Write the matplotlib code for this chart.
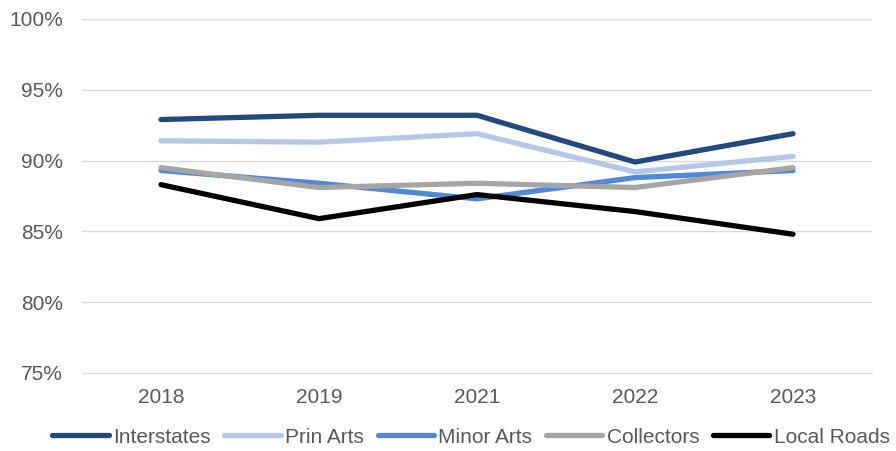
import matplotlib.pyplot as plt
from matplotlib.ticker import FuncFormatter, MultipleLocator

plt.rcParams['font.family'] = ['Liberation Sans', 'DejaVu Sans']

years = ['2018', '2019', '2021', '2022', '2023']
interstates = [92.9, 93.2, 93.2, 89.9, 91.9]
prin_arts = [91.4, 91.3, 91.9, 89.2, 90.3]
minor_arts = [89.3, 88.4, 87.3, 88.8, 89.3]
collectors = [89.5, 88.1, 88.4, 88.1, 89.5]
local_roads = [88.3, 85.9, 87.6, 86.4, 84.8]

series = [
    ('Interstates', interstates, '#224A7E'),
    ('Prin Arts', prin_arts, '#B4C7E7'),
    ('Minor Arts', minor_arts, '#4F88D4'),
    ('Collectors', collectors, '#A5A5A5'),
    ('Local Roads', local_roads, '#000000'),
]

fig = plt.figure(figsize=(8.96, 4.51), dpi=100)
ax = fig.add_axes([82 / 896, 1 - 373 / 451, 790 / 896, 354 / 451])

x = range(len(years))
for name, vals, color in series:
    ax.plot(x, vals, color=color, lw=3.8, label=name,
            solid_capstyle='round', solid_joinstyle='round')

ax.set_xlim(-0.5, len(years) - 0.5)
ax.set_ylim(75, 100)
ax.set_xticks(list(x))
ax.set_xticklabels(years)
ax.yaxis.set_major_locator(MultipleLocator(5))
ax.yaxis.set_major_formatter(FuncFormatter(lambda v, _: f'{v:.0f}%'))

ax.grid(axis='y', color='#D9D9D9', lw=1)
ax.set_axisbelow(True)
for s in ax.spines.values():
    s.set_visible(False)
ax.spines['bottom'].set_visible(True)
ax.spines['bottom'].set_color('#D9D9D9')
ax.tick_params(axis='both', length=0, labelsize=15, colors='#595959')
ax.tick_params(axis='x', pad=11)
ax.tick_params(axis='y', pad=13.5)

ax.legend(loc='upper center', bbox_to_anchor=(0.5 - 6 / 790, -0.143), ncol=5,
          frameon=False, fontsize=15, handlelength=2.7, handletextpad=0.2,
          columnspacing=0.67, labelcolor='#595959', borderaxespad=0,
          borderpad=0.2)

fig.savefig('out.png', dpi=100)
